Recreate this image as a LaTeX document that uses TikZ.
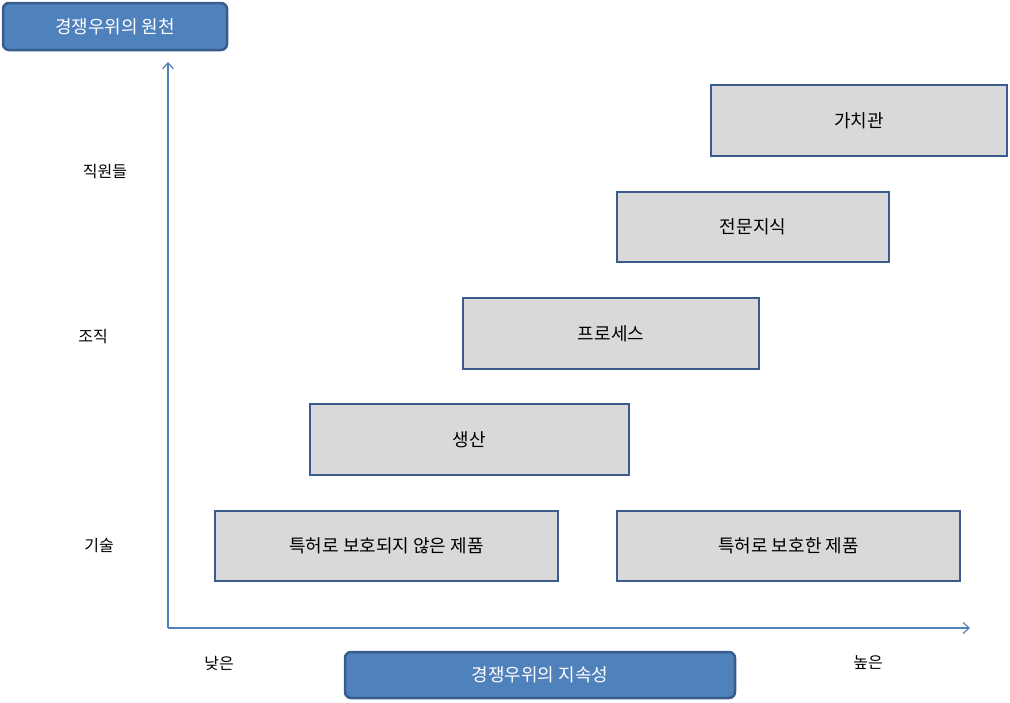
\documentclass[tikz,border=0pt]{standalone}
\usepackage{fontspec}
\setmainfont{Noto Sans CJK KR}
\usetikzlibrary{arrows.meta}
\definecolor{bfill}{HTML}{D9D9D9}
\definecolor{bdraw}{HTML}{3B5C8C}
\definecolor{tfill}{HTML}{4F81BD}
\definecolor{tdraw}{HTML}{385D8A}
\begin{document}
\begin{tikzpicture}[x=1pt,y=-1pt,
  bar/.style={draw=bdraw,fill=bfill,line width=2.5pt,font=\fontsize{18}{20}\selectfont},
  ttl/.style={draw=tdraw,fill=tfill,line width=2.5pt,rounded corners=6pt,text=white,font=\fontsize{18}{20}\selectfont},
  lab/.style={font=\fontsize{16}{18}\selectfont},
  ax/.style={draw=tfill,line width=1.2pt,-{Straight Barb[length=6pt,width=11pt]}}]
\useasboundingbox (0,0) rectangle (1010,702);
\draw[bar] (711,85) rectangle (1007,156) node[midway,text=black] (v) {가치관};
\draw[bar] (617,192) rectangle (889,262) node[midway] (e) {전문지식};
\draw[bar] (463,298) rectangle (759,369) node[midway] (p) {프로세스};
\draw[bar] (310,404) rectangle (629,475) node[midway] (s) {생산};
\draw[bar] (215,511) rectangle (558,581) node[midway] (u) {특허로 보호되지 않은 제품};
\draw[bar] (617,511) rectangle (960,581) node[midway] (q) {특허로 보호한 제품};
\draw[ttl] (3,3) rectangle (227,50) node[midway] (t1) {경쟁우위의 원천};
\draw[ttl] (345,652) rectangle (735,698) node[midway] (t2) {경쟁우위의 지속성};
\coordinate (o) at (168,628);
\coordinate (yt) at (168,62);
\coordinate (xt) at (970,628);
\draw[ax] (o) -- (yt);
\draw[ax] (o) -- (xt);
\node[lab] (l1) at (105,172) {직원들};
\node[lab] (l2) at (93,337) {조직};
\node[lab] (l3) at (99,545) {기술};
\node[lab] (l4) at (219,663) {낮은};
\node[lab] (l5) at (868,663) {높은};
\end{tikzpicture}
\end{document}
